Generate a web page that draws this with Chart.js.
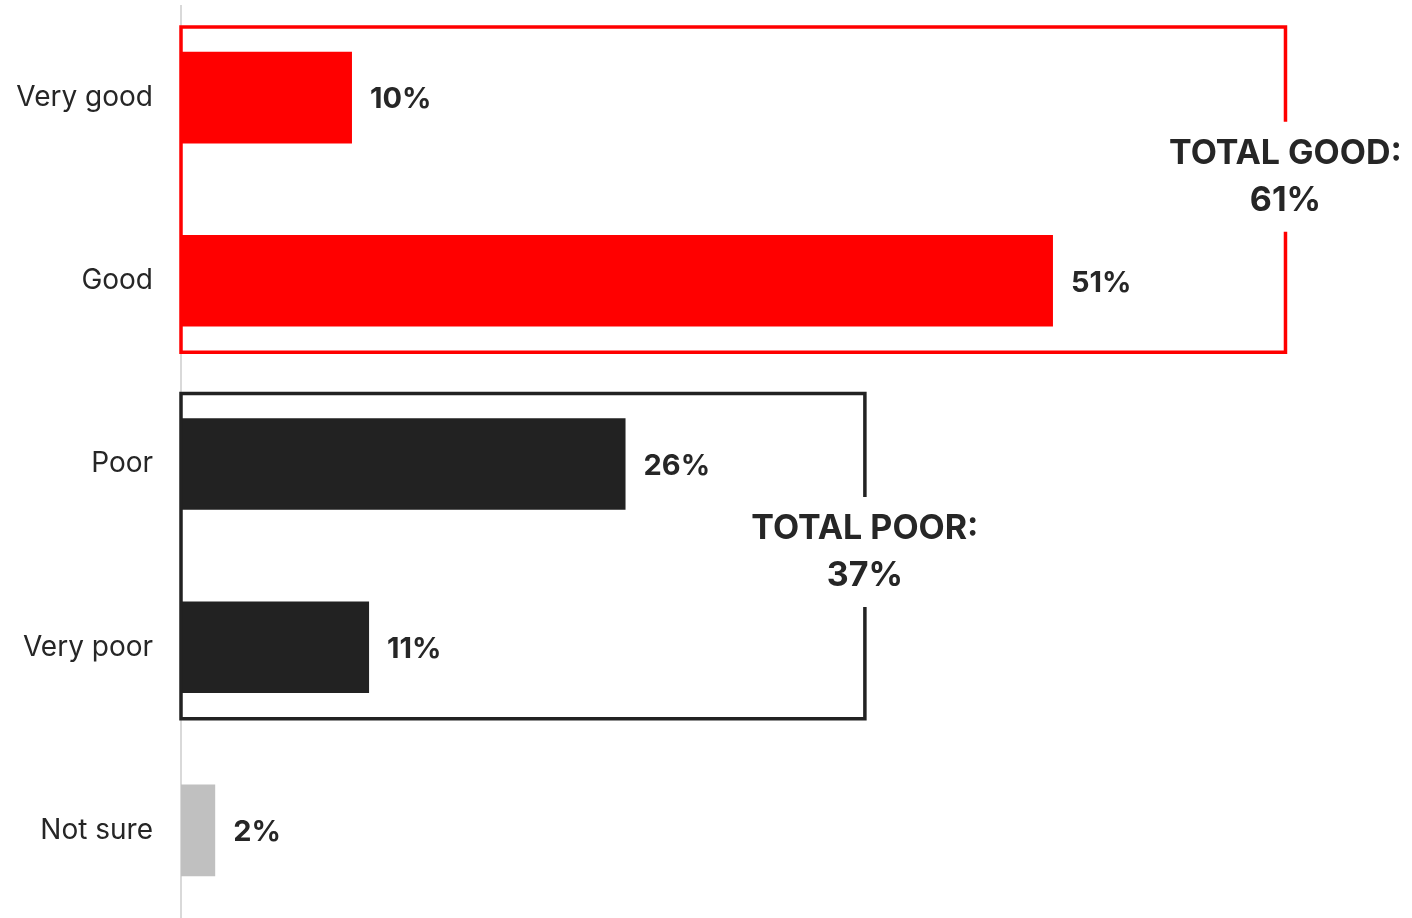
<!DOCTYPE html>
<html>
<head>
<meta charset="utf-8">
<script src="https://cdn.jsdelivr.net/npm/chart.js@4.4.0/dist/chart.umd.min.js"></script>
<style>
  html, body { margin: 0; padding: 0; background: #fff; overflow: hidden; }
  #wrap { width: 1412px; height: 924px; }
</style>
</head>
<body>
<div id="wrap"><canvas id="chart" width="1412" height="924"></canvas></div>
<script>
  const categories = ["Very good", "Good", "Poor", "Very poor", "Not sure"];
  const values = [10, 51, 26, 11, 2];
  const barColors = ["#ff0000", "#ff0000", "#222222", "#222222", "#c0c0c0"];

  // grouped totals: first/last category index, box end on the value axis, label lines
  const groups = [
    { from: 0, to: 1, end: 64.6, color: "#ff0000", lines: ["TOTAL GOOD:", "61%"] },
    { from: 2, to: 3, end: 40, color: "#222222", lines: ["TOTAL POOR:", "37%"] }
  ];
  const labelShift = [-13, -4];

  const FONT = "Inter, 'Open Sans', sans-serif";

  const overlay = {
    id: "overlay",
    afterDatasetsDraw(chart) {
      const ctx = chart.ctx;
      const x = chart.scales.x;
      const y = chart.scales.y;
      const step = y.getPixelForValue(1) - y.getPixelForValue(0);
      const meta = chart.getDatasetMeta(0);

      ctx.save();
      ctx.fillStyle = "#262626";
      ctx.font = "bold 29px " + FONT;
      ctx.textAlign = "left";
      ctx.textBaseline = "middle";
      meta.data.forEach((bar, i) => {
        ctx.fillText(values[i] + "%", bar.x + 18, bar.y + 2);
      });

      groups.forEach((g, gi) => {
        const left = x.getPixelForValue(0);
        const right = x.getPixelForValue(g.end);
        const top = y.getPixelForValue(g.from) - step * 0.385;
        const bottom = y.getPixelForValue(g.to) + step * 0.39;
        const mid = (top + bottom) / 2 + labelShift[gi];
        const gap = 55;
        ctx.strokeStyle = g.color;
        ctx.lineWidth = 3.5;
        ctx.beginPath();
        ctx.moveTo(right, mid - gap);
        ctx.lineTo(right, top);
        ctx.lineTo(left, top);
        ctx.lineTo(left, bottom);
        ctx.lineTo(right, bottom);
        ctx.lineTo(right, mid + gap);
        ctx.stroke();

        ctx.fillStyle = "#262626";
        ctx.font = "bold 34px " + FONT;
        ctx.textAlign = "center";
        ctx.fillText(g.lines[0], right, mid - 23);
        ctx.fillText(g.lines[1], right, mid + 24);
      });
      ctx.restore();
    }
  };

  new Chart(document.getElementById("chart"), {
    type: "bar",
    data: {
      labels: categories,
      datasets: [{
        data: values,
        backgroundColor: barColors,
        borderWidth: 0,
        categoryPercentage: 1,
        barPercentage: 0.5
      }]
    },
    options: {
      indexAxis: "y",
      responsive: false,
      animation: false,
      layout: { padding: { top: 6, bottom: 2, left: 0, right: 0 } },
      plugins: { legend: { display: false }, tooltip: { enabled: false } },
      scales: {
        x: { min: 0, max: 72, display: false },
        y: {
          grid: { display: false, drawTicks: false },
          border: { display: true, color: "#d9d9d9", width: 2 },
          ticks: { color: "#262626", font: { family: FONT, size: 28 }, padding: 28 },
          afterFit(scale) {
            scale.width = 181;
            scale.paddingTop = 0;
            scale.paddingBottom = 0;
          }
        }
      }
    },
    plugins: [overlay]
  });
</script>
</body>
</html>
